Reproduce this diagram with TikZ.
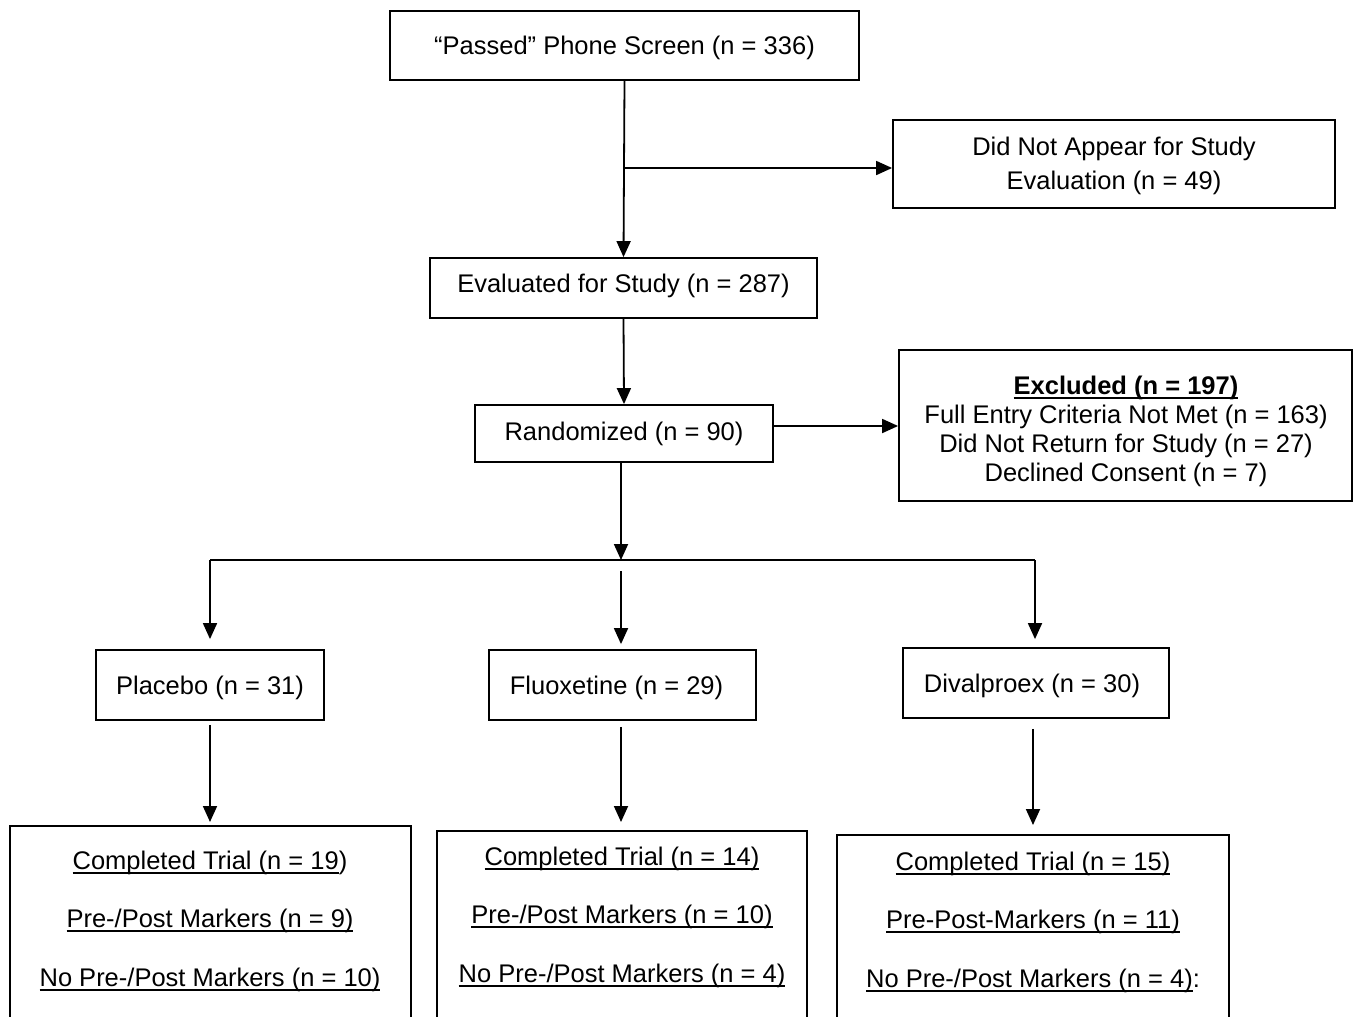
\documentclass[tikz,border=0pt]{standalone}
\usepackage{fontspec}
\setmainfont{Liberation Sans}
\usetikzlibrary{arrows.meta}
\newcommand{\myul}[1]{\leavevmode\setbox0=\hbox{#1}\rlap{\rule[-4.5pt]{\wd0}{1.9pt}}\box0}
\tikzset{
  box/.style={draw, line width=1.8pt, inner sep=0pt},
  lbl/.style={inner sep=0pt, align=center, font=\fontsize{25.5}{30}\selectfont},
  arr/.style={line width=1.8pt, -{Triangle[length=16pt,width=14pt]}},
  ln/.style={line width=1.8pt},
}
\begin{document}
\begin{tikzpicture}[x=1pt,y=-1pt]
\useasboundingbox (0,0) rectangle (1358,1017);
\clip (0,0) rectangle (1358,1017);
\fill[white] (0,0) rectangle (1358,1017);

% boxes
\node[box, minimum width=469, minimum height=69] (passed) at (624.5,45.5) {};
\node[box, minimum width=442, minimum height=88] (dna) at (1114,164) {};
\node[box, minimum width=387, minimum height=60] (eval) at (623.5,288) {};
\node[box, minimum width=298, minimum height=57] (rand) at (624,433.5) {};
\node[box, minimum width=453, minimum height=151] (excl) at (1125.5,425.5) {};
\node[box, minimum width=228, minimum height=70] (plac) at (210,685) {};
\node[box, minimum width=267, minimum height=70] (fluox) at (622.5,685) {};
\node[box, minimum width=266, minimum height=70] (dival) at (1036,683) {};
\node[box, minimum width=401, minimum height=300, anchor=north] (c1) at (210.5,825) {};
\node[box, minimum width=370, minimum height=300, anchor=north] (c2) at (622,830) {};
\node[box, minimum width=392, minimum height=300, anchor=north] (c3) at (1033,834) {};

% texts
\node[lbl] (passedt) at ([shift={(0,2)}]passed.center) {“Passed” Phone Screen (n = 336)};
\node[lbl, font=\fontsize{25.5}{34}\selectfont] (dnat) at ([shift={(0,2)}]dna.center) {Did Not Appear for Study\\Evaluation (n = 49)};
\node[lbl] (evalt) at ([shift={(0,-2)}]eval.center) {Evaluated for Study (n = 287)};
\node[lbl] (randt) at (rand.center) {Randomized (n = 90)};
\node[lbl, font=\fontsize{25.5}{29}\selectfont] (exclt) at ([shift={(0.5,6)}]excl.center) {\myul{\bfseries Excluded (n = 197)}\\Full Entry Criteria Not Met (n = 163)\\Did Not Return for Study (n = 27)\\Declined Consent (n = 7)};
\node[lbl] (plact) at ([shift={(0,3)}]plac.center) {Placebo (n = 31)};
\node[lbl] (fluoxt) at ([shift={(-6,3)}]fluox.center) {Fluoxetine (n = 29)};
\node[lbl] (divalt) at ([shift={(-4,3)}]dival.center) {Divalproex (n = 30)};
\node[lbl, font=\fontsize{25.5}{58.5}\selectfont] (c1t) at (210,921) {\myul{Completed Trial (n = 19}){}\\\myul{Pre-/Post Markers (n = 9)}\\\myul{No Pre-/Post Markers (n = 10)}};
\node[lbl, font=\fontsize{25.5}{58.5}\selectfont] (c2t) at (622,917) {\myul{Completed Trial (n = 14)}\\\myul{Pre-/Post Markers (n = 10)}\\\myul{No Pre-/Post Markers (n = 4)}};
\node[lbl, font=\fontsize{25.5}{58.5}\selectfont] (c3t) at (1033,922) {\myul{Completed Trial (n = 15)}\\\myul{Pre-Post-Markers (n = 11)}\\\myul{No Pre-/Post Markers (n = 4)}:};

% connectors
\coordinate (j1) at (624,168);
\draw[arr] (passed.south) -- (eval.north);
\draw[arr] (j1) -- (j1 -| dna.west);
\draw[arr] (eval.south) -- (rand.north);
\coordinate (j2) at (773,426);
\draw[arr] (j2) -- (j2 -| excl.west);
\coordinate (busL) at (210,560);
\coordinate (busR) at (1035,560);
\coordinate (busM) at (621,560);
\coordinate (busM2) at (621,571);
\draw[arr] (rand.south -| busM) -- (busM);
\draw[ln] (busL) -- (busR);
\draw[arr, shorten >=10pt] (busL) -- (busL |- plac.north);
\draw[arr, shorten >=5pt] (busM2) -- (busM2 |- fluox.north);
\draw[arr, shorten >=8pt] (busR) -- (busR |- dival.north);
\draw[arr, shorten <=4pt, shorten >=3pt] (plac.south) -- (plac.south |- c1.north);
\draw[arr, shorten <=6pt, shorten >=8pt] (fluox.south -| busM) -- (busM |- c2.north);
\draw[arr, shorten <=10pt, shorten >=9pt] (c3.north |- dival.south) -- (c3.north);
\end{tikzpicture}
\end{document}
